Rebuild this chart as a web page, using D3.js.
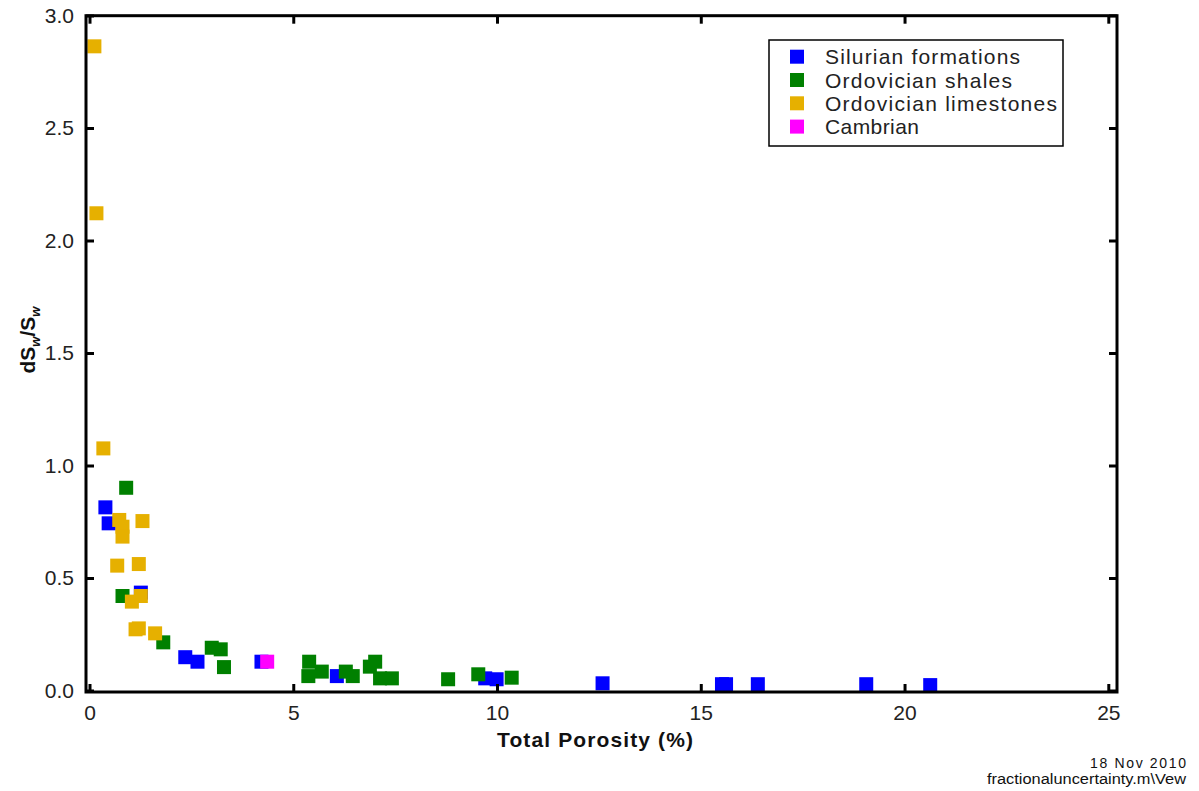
<!DOCTYPE html>
<html>
<head>
<meta charset="utf-8">
<script src="https://cdn.jsdelivr.net/npm/d3@7"></script>
<style>
  html, body { margin: 0; padding: 0; background: #fff; }
  svg { display: block; }
  text { font-family: "Liberation Sans", Arial, sans-serif; }
</style>
</head>
<body>
<svg id="chart" width="1199" height="791"></svg>
<script>
// ---- Data ----
const seriesNames = ["Silurian formations", "Ordovician shales", "Ordovician limestones", "Cambrian"];
const seriesColors = ["#0000ff", "#008000", "#e6b000", "#ff00ff"];

// Silurian formations: [porosity %, dSw/Sw]
const silurian = [
  [0.39, 0.814], [0.47, 0.743], [1.26, 0.435], [2.35, 0.148], [2.65, 0.128],
  [4.22, 0.128], [6.07, 0.064], [9.71, 0.054], [9.99, 0.050], [12.59, 0.032],
  [15.52, 0.028], [15.62, 0.028], [16.40, 0.028], [19.06, 0.028], [20.63, 0.024]
];
// Ordovician shales
const ordShales = [
  [0.90, 0.901], [0.81, 0.420], [1.81, 0.214], [3.00, 0.190], [3.22, 0.183],
  [3.30, 0.104], [5.39, 0.128], [5.37, 0.064], [5.70, 0.084], [6.29, 0.084],
  [6.46, 0.064], [6.88, 0.106], [7.01, 0.128], [7.13, 0.054], [7.42, 0.054],
  [8.80, 0.050], [9.54, 0.072], [10.36, 0.057]
];
// Ordovician limestones
const ordLimestones = [
  [0.12, 2.863], [0.17, 2.121], [0.34, 1.076], [0.73, 0.758], [0.81, 0.728],
  [0.81, 0.684], [1.30, 0.753], [0.68, 0.555], [1.21, 0.562], [1.26, 0.420],
  [1.04, 0.395], [1.13, 0.272], [1.21, 0.276], [1.61, 0.254]
];
// Cambrian
const cambrian = [[4.36, 0.128]];

const xTicks = [0, 5, 10, 15, 20, 25];
const xTickLabels = ["0", "5", "10", "15", "20", "25"];
const yTicks = [0, 0.5, 1.0, 1.5, 2.0, 2.5, 3.0];
const yTickLabels = ["0.0", "0.5", "1.0", "1.5", "2.0", "2.5", "3.0"];

const allSeries = [silurian, ordShales, ordLimestones, cambrian];

// ---- Layout ----
const svg = d3.select("#chart");
const box = { left: 86, right: 1117, top: 15.7, bottom: 692 };
const x = d3.scaleLinear().domain([0, 25]).range([89.5, 1108.3]);
const y = d3.scaleLinear().domain([0, 3]).range([690.5, 15.5]);
const markerSize = 14;

// ---- Markers ----
allSeries.forEach((data, i) => {
  svg.append("g")
    .selectAll("rect")
    .data(data)
    .join("rect")
    .attr("x", d => x(d[0]) - markerSize / 2)
    .attr("y", d => y(d[1]) - markerSize / 2)
    .attr("width", markerSize)
    .attr("height", markerSize)
    .attr("fill", seriesColors[i]);
});

// ---- Axes (ticks pointing inward) ----
const tickLen = 8;
const fmtX = (d) => xTickLabels[xTicks.indexOf(d)];
const fmtY = (d) => yTickLabels[yTicks.indexOf(d)];

const gx = svg.append("g")
  .attr("transform", `translate(0,${box.bottom})`)
  .call(d3.axisBottom(x).tickValues(xTicks).tickFormat(fmtX).tickSizeInner(-tickLen).tickSizeOuter(0).tickPadding(13));
const gy = svg.append("g")
  .attr("transform", `translate(${box.left},0)`)
  .call(d3.axisLeft(y).tickValues(yTicks).tickFormat(fmtY).tickSizeInner(-tickLen).tickSizeOuter(0).tickPadding(12));
const gxt = svg.append("g")
  .attr("transform", `translate(0,${box.top})`)
  .call(d3.axisTop(x).tickValues(xTicks).tickFormat("").tickSizeInner(-tickLen).tickSizeOuter(0));
const gyr = svg.append("g")
  .attr("transform", `translate(${box.right},0)`)
  .call(d3.axisRight(y).tickValues(yTicks).tickFormat("").tickSizeInner(-tickLen).tickSizeOuter(0));

[gx, gy, gxt, gyr].forEach(g => {
  g.select(".domain").remove();
  g.selectAll(".tick line").attr("stroke", "#000").attr("stroke-width", 3);
  g.selectAll(".tick text")
    .attr("fill", "#222")
    .style("font-size", "21px")
    .style("font-family", "'Liberation Sans', Arial, sans-serif");
});

// ---- Box ----
svg.append("rect")
  .attr("x", box.left).attr("y", box.top)
  .attr("width", box.right - box.left).attr("height", box.bottom - box.top)
  .attr("fill", "none").attr("stroke", "#000").attr("stroke-width", 3);

// ---- Axis labels ----
svg.append("text")
  .attr("x", 595).attr("y", 747)
  .attr("text-anchor", "middle")
  .attr("font-weight", "bold")
  .attr("font-size", 21)
  .attr("fill", "#111")
  .attr("textLength", 196).attr("lengthAdjust", "spacing")
  .text("Total Porosity (%)");

const yl = svg.append("text")
  .attr("transform", "translate(35,340) rotate(-90)")
  .attr("text-anchor", "middle")
  .attr("font-weight", "bold")
  .attr("font-size", 21)
  .attr("fill", "#111");
yl.append("tspan").text("dS");
yl.append("tspan").attr("font-size", 13).attr("dy", 5).attr("font-style", "italic").text("w");
yl.append("tspan").attr("dy", -5).text("/S");
yl.append("tspan").attr("font-size", 13).attr("dy", 5).attr("font-style", "italic").text("w");

// ---- Legend ----
const legend = svg.append("g");
legend.append("rect")
  .attr("x", 769).attr("y", 40).attr("width", 294).attr("height", 106)
  .attr("fill", "#fff").attr("stroke", "#000").attr("stroke-width", 1.5);
const legendWidths = [195, 187, 232, 94];
seriesNames.forEach((name, i) => {
  const cy = 56.7 + i * 23.3;
  legend.append("rect")
    .attr("x", 797 - 7).attr("y", cy - 7).attr("width", 14).attr("height", 14)
    .attr("fill", seriesColors[i]);
  legend.append("text")
    .attr("x", 825).attr("y", cy + 7.5)
    .attr("font-size", 21)
    .attr("fill", "#222")
    .attr("textLength", legendWidths[i]).attr("lengthAdjust", "spacing")
    .text(name);
});

// ---- Footer text ----
svg.append("text")
  .attr("x", 1186).attr("y", 768)
  .attr("text-anchor", "end").attr("font-size", 14).attr("fill", "#111")
  .attr("textLength", 96).attr("lengthAdjust", "spacing")
  .text("18 Nov 2010");
svg.append("text")
  .attr("x", 1186).attr("y", 784)
  .attr("text-anchor", "end").attr("font-size", 14).attr("fill", "#111")
  .attr("textLength", 199).attr("lengthAdjust", "spacingAndGlyphs")
  .text("fractionaluncertainty.m\\Vew");
</script>
</body>
</html>
